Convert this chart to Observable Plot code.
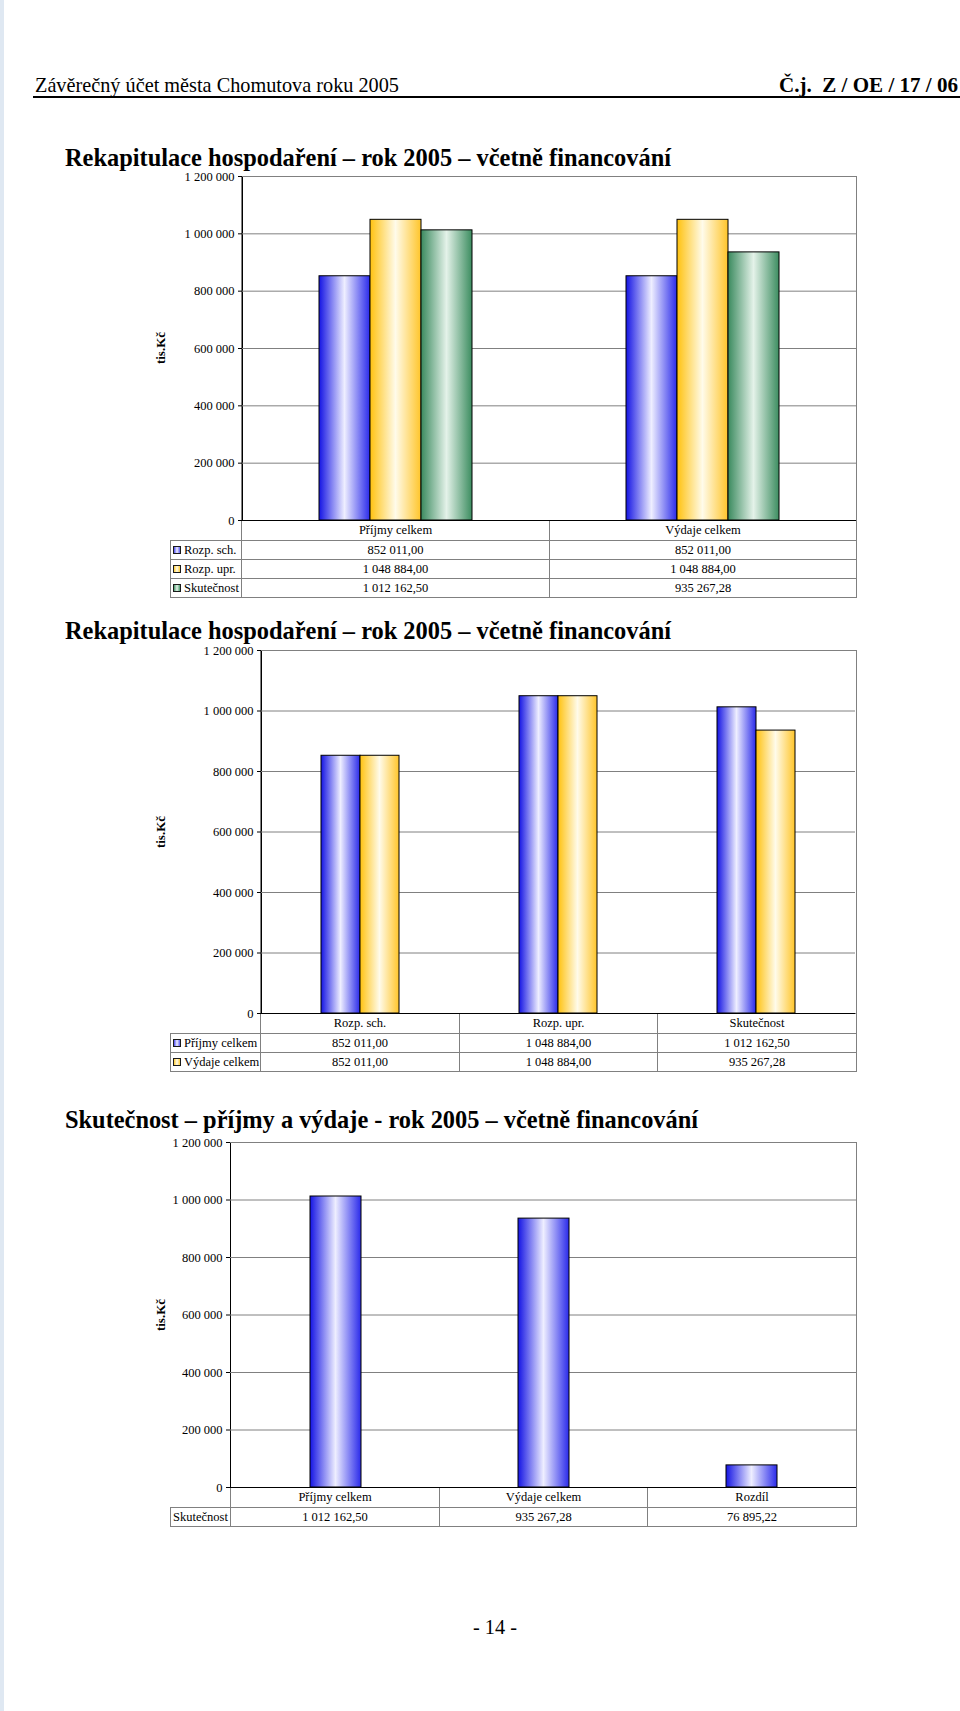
<!DOCTYPE html>
<html>
<head>
<meta charset="utf-8">
<script src="https://cdn.jsdelivr.net/npm/d3@7"></script>
<script src="https://cdn.jsdelivr.net/npm/@observablehq/plot@0.6"></script>
<style>
  html, body { margin: 0; padding: 0; background: #fff; }
  #page { position: relative; width: 960px; height: 1711px; overflow: hidden; background: #fff;
          font-family: 'Liberation Serif', 'Times New Roman', serif; color: #000; }
  .abs { position: absolute; white-space: pre; line-height: 1; }
  .strip { left: 0; top: 0; width: 4px; height: 1711px; background: #dfe8f2; }
  .header { font-size: 22px; }
  .headerBold { font-size: 22px; font-weight: bold; }
  .rule { height: 2px; background: #000; }
  .title { font-size: 26px; font-weight: bold; }
  .ylab { font-size: 13px; font-weight: bold; transform-origin: center center; }
  .cell { position: absolute; box-sizing: border-box; border: 1px solid #808080; font-size: 12.5px;
          text-align: center; white-space: nowrap; overflow: hidden; }
  .cell.legend { text-align: left; padding-left: 2px; }
  .key { display: inline-block; width: 8px; height: 8px; box-sizing: border-box; border: 1px solid #1a1a1a;
         margin-right: 3px; vertical-align: 0px; }
  .pagenum { font-size: 20px; }
  svg.chart { position: absolute; }
</style>
</head>
<body>
<div id="page">
  <svg width="0" height="0" style="position:absolute;left:0;top:0">
    <defs>
      <linearGradient id="gBlue" x1="0" x2="1" y1="0" y2="0">
        <stop offset="0" stop-color="#1414e4"/>
        <stop offset="0.5" stop-color="#eeeeff"/>
        <stop offset="1" stop-color="#2a2aea"/>
      </linearGradient>
      <linearGradient id="gYellow" x1="0" x2="1" y1="0" y2="0">
        <stop offset="0" stop-color="#ffc20f"/>
        <stop offset="0.5" stop-color="#fffbea"/>
        <stop offset="1" stop-color="#ffc52a"/>
      </linearGradient>
      <linearGradient id="gGreen" x1="0" x2="1" y1="0" y2="0">
        <stop offset="0" stop-color="#3a8a5e"/>
        <stop offset="0.5" stop-color="#e4f2e9"/>
        <stop offset="1" stop-color="#3c8d60"/>
      </linearGradient>
    </defs>
  </svg>
</div>
<script>
// ---------- DATA ----------
const docHeader = "Závěrečný účet města Chomutova roku 2005";
const docRef = "Č.j.  Z / OE / 17 / 06";
const pageNumber = "- 14 -";
const chartTitles = [
  "Rekapitulace hospodaření – rok 2005 – včetně financování",
  "Rekapitulace hospodaření – rok 2005 – včetně financování",
  "Skutečnost – příjmy a výdaje - rok 2005 – včetně financování"
];
const yLabel = "tis.Kč";
const yTicks = [0, 200000, 400000, 600000, 800000, 1000000, 1200000];
const yMax = 1200000;

const groupCategories = ["Příjmy celkem", "Výdaje celkem"];
const budgetSeries = ["Rozp. sch.", "Rozp. upr.", "Skutečnost"];
const rozpSch = [852011.00, 852011.00];
const rozpUpr = [1048884.00, 1048884.00];
const skutecnost = [1012162.50, 935267.28];

const resultCategories = ["Příjmy celkem", "Výdaje celkem", "Rozdíl"];
const resultSeries = ["Skutečnost"];
const resultValues = [1012162.50, 935267.28, 76895.22];

// ---------- STYLE LOOKUPS ----------
const gradIds = ["gBlue", "gYellow", "gGreen"];
const keyCss = [
  "linear-gradient(to right, #4a4af0, #eeeeff 50%, #5a5af0)",
  "linear-gradient(to right, #ffcc33, #fffbea 50%, #ffcc33)",
  "linear-gradient(to right, #4a9a6c, #e4f2e9 50%, #4a9a6c)"
];

const locale = d3.formatLocale({decimal: ",", thousands: " ", grouping: [3], currency: ["", ""]});
const fmtTick = locale.format(",d");
const fmtVal = locale.format(",.2f");

const page = document.getElementById("page");
function el(cls, text, style) {
  const d = document.createElement("div");
  d.className = cls;
  if (text != null) d.textContent = text;
  Object.assign(d.style, style || {});
  page.appendChild(d);
  return d;
}
function fit(node, target, anchor) {
  const w = node.getBoundingClientRect().width;
  node.style.transformOrigin = anchor === "right" ? "right top" : "left top";
  node.style.transform = `scaleX(${target / w})`;
}

// ---------- PAGE FURNITURE ----------
el("abs strip");
const h1 = el("abs header", docHeader, {left: "35px", top: "74px"});
fit(h1, 364);
const h2 = el("abs headerBold", docRef, {right: "2px", top: "74px"});
fit(h2, 179, "right");
el("abs rule", null, {left: "33px", top: "96px", width: "927px"});
const pn = el("abs pagenum", pageNumber, {left: "473px", top: "1617px"});
fit(pn, 44);

// ---------- TABLE ----------
function drawTable({tableLeft, plotLeft, plotRight, top, headerH, rowH, columns, rows}) {
  const n = columns.length;
  const colW = (plotRight - plotLeft) / n;
  const colX = d3.range(n + 1).map(i => Math.round(plotLeft + i * colW));
  columns.forEach((c, j) => {
    el("cell", c, {left: colX[j] + "px", top: top + "px", width: (colX[j + 1] - colX[j] + 1) + "px",
      height: (headerH + 1) + "px", lineHeight: (headerH - 1) + "px"});
  });
  rows.forEach((r, i) => {
    const y = top + headerH + i * rowH;
    const lg = el("cell legend", null, {left: tableLeft + "px", top: y + "px", width: (plotLeft - tableLeft + 1) + "px",
      height: (rowH + 1) + "px", lineHeight: (rowH - 1) + "px"});
    if (r.key) {
      const k = document.createElement("span");
      k.className = "key";
      k.style.background = r.key;
      lg.appendChild(k);
    }
    lg.appendChild(document.createTextNode(r.name));
    r.values.forEach((v, j) => {
      el("cell", fmtVal(v), {left: colX[j] + "px", top: y + "px", width: (colX[j + 1] - colX[j] + 1) + "px",
        height: (rowH + 1) + "px", lineHeight: (rowH - 1) + "px"});
    });
  });
}

// ---------- CHART ----------
function chart({rows, grouped, categories, series, plotLeft, plotRight, plotTop, plotBottom, seriesPad, catPad}) {
  const mL = 82, mR = 2, mT = 12, mB = 2;
  const width = plotRight - plotLeft + mL + mR;
  const height = plotBottom - plotTop + mT + mB;
  const opts = {
    width, height,
    marginLeft: mL, marginRight: mR, marginTop: mT, marginBottom: mB,
    style: {fontFamily: "'Liberation Serif', 'Times New Roman', serif", fontSize: "12.5px", color: "#000",
            background: "transparent", overflow: "visible"},
    color: {type: "identity"},
    y: {domain: [0, yMax], ticks: yTicks, tickFormat: fmtTick, tickSize: 4, tickPadding: 4, line: true, label: null},
    marks: [
      Plot.ruleY(yTicks, {stroke: "#808080", strokeWidth: 1, strokeOpacity: 1}),
      Plot.barY(rows, {x: grouped ? "series" : "category", y: "value",
        fill: d => `url(#${gradIds[d.seriesIndex]})`, stroke: "#000", strokeWidth: 1}),
      Plot.ruleY([0], {stroke: "#000", strokeWidth: 1})
    ]
  };
  if (grouped) {
    opts.facet = {data: rows, x: "category"};
    opts.fx = {domain: categories, padding: 0, axis: null, label: null};
    opts.x = {domain: series, paddingInner: 0, paddingOuter: seriesPad, axis: null, label: null};
  } else {
    opts.x = {domain: categories, paddingInner: catPad, paddingOuter: catPad / 2, axis: null, label: null};
  }
  const svg = Plot.plot(opts);
  svg.classList.add("chart");
  svg.style.left = (plotLeft - mL) + "px";
  svg.style.top = (plotTop - mT) + "px";
  // plot-area frame (top/right border like the spreadsheet chart)
  const ns = "http://www.w3.org/2000/svg";
  const fr = document.createElementNS(ns, "rect");
  fr.setAttribute("x", mL + 0.5);
  fr.setAttribute("y", mT + 0.5);
  fr.setAttribute("width", plotRight - plotLeft);
  fr.setAttribute("height", plotBottom - plotTop);
  fr.setAttribute("fill", "none");
  fr.setAttribute("stroke", "#808080");
  svg.insertBefore(fr, svg.firstChild);
  page.appendChild(svg);
}

const budgetArrays = [rozpSch, rozpUpr, skutecnost];

// ===== Chart 1: categories = Příjmy/Výdaje, series = budget stages =====
const rows1 = [];
groupCategories.forEach((c, ci) => budgetSeries.forEach((s, si) =>
  rows1.push({category: c, series: s, seriesIndex: si, value: budgetArrays[si][ci]})));
const t1 = el("abs title", chartTitles[0], {left: "65px", top: "145px"});
fit(t1, 606);
el("abs ylab", yLabel, {left: "160px", top: "348px", transform: "translate(-50%,-50%) rotate(-90deg)"});
drawTable({tableLeft: 170, plotLeft: 241, plotRight: 856, top: 520, headerH: 20, rowH: 19,
  columns: groupCategories,
  rows: budgetSeries.map((s, si) => ({name: s, key: keyCss[si], values: budgetArrays[si]}))});
chart({rows: rows1, grouped: true, categories: groupCategories, series: budgetSeries,
  plotLeft: 241, plotRight: 856, plotTop: 176, plotBottom: 520, seriesPad: 1.5});

// ===== Chart 2: transposed =====
const rows2 = [];
budgetSeries.forEach((c, ci) => groupCategories.forEach((s, si) =>
  rows2.push({category: c, series: s, seriesIndex: si, value: budgetArrays[ci][si]})));
const t2 = el("abs title", chartTitles[1], {left: "65px", top: "618px"});
fit(t2, 606);
el("abs ylab", yLabel, {left: "160px", top: "832px", transform: "translate(-50%,-50%) rotate(-90deg)"});
drawTable({tableLeft: 170, plotLeft: 260, plotRight: 856, top: 1013, headerH: 20, rowH: 19,
  columns: budgetSeries,
  rows: groupCategories.map((s, si) => ({name: s, key: keyCss[si], values: budgetArrays.map(a => a[si])}))});
chart({rows: rows2, grouped: true, categories: budgetSeries, series: groupCategories,
  plotLeft: 260, plotRight: 856, plotTop: 650, plotBottom: 1013, seriesPad: 1.5});

// ===== Chart 3: actual income / expenditure / difference =====
const rows3 = resultCategories.map((c, i) => ({category: c, series: resultSeries[0], seriesIndex: 0, value: resultValues[i]}));
const t3 = el("abs title", chartTitles[2], {left: "65px", top: "1107px"});
fit(t3, 633);
el("abs ylab", yLabel, {left: "160px", top: "1315px", transform: "translate(-50%,-50%) rotate(-90deg)"});
drawTable({tableLeft: 170, plotLeft: 230, plotRight: 856, top: 1487, headerH: 20, rowH: 19,
  columns: resultCategories,
  rows: resultSeries.map((s) => ({name: s, key: null, values: resultValues}))});
chart({rows: rows3, grouped: false, categories: resultCategories, series: resultSeries,
  plotLeft: 230, plotRight: 856, plotTop: 1142, plotBottom: 1487, catPad: 0.755});
</script>
</body>
</html>
